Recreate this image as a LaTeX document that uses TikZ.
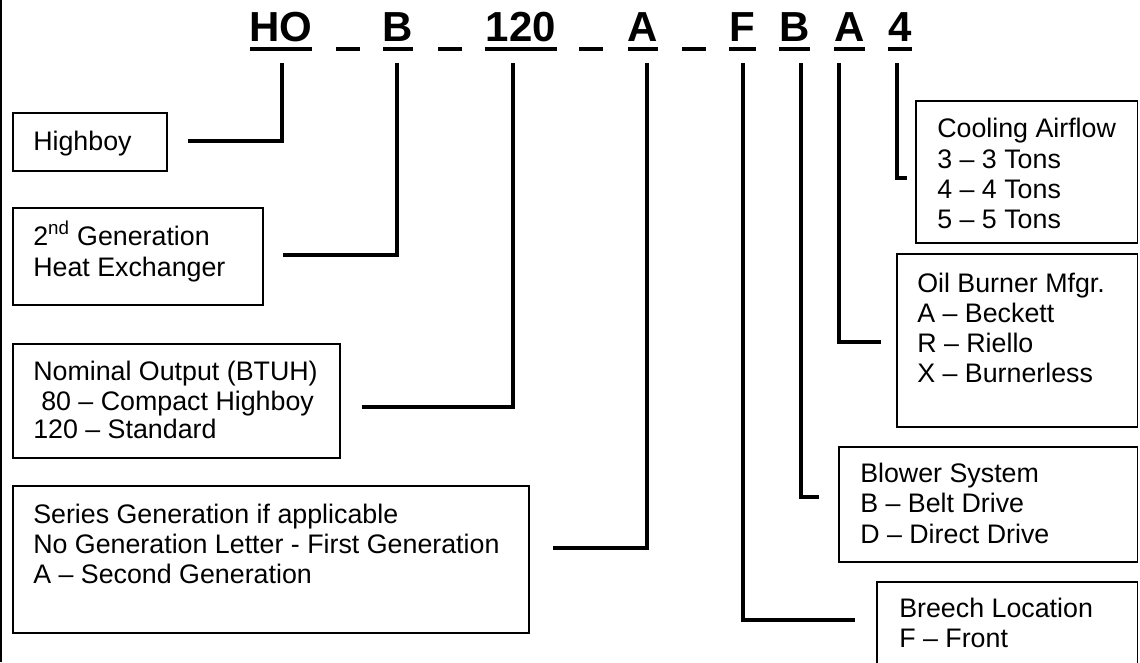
\documentclass[tikz,border=0pt]{standalone}
\usepackage{fontspec}
\setmainfont{Liberation Sans}
\begin{document}
\begin{tikzpicture}[x=0.75pt,y=-0.75pt,
  box/.style={draw=black,line width=1.1pt},
  conn/.style={draw=black,line width=2.9pt,line join=miter,line cap=butt},
  lbl/.style={anchor=base west,inner sep=0pt,font=\fontsize{20.1}{22.5}\selectfont},
  code/.style={anchor=base,inner sep=0pt,font=\fontsize{31.5}{34}\selectfont\bfseries},
  uline/.style={fill=black}]
\useasboundingbox (0,0) rectangle (1140,662);
\clip (0,0) rectangle (1140,662);
\draw[line width=1.5pt] (1,0) -- (1,662);

% title code
\node[code] (tHO) at (281,41) {HO};
\node[code] (tB) at (398,41) {B};
\node[code] (t120) at (521,41) {120};
\node[code] (tA) at (643,41) {A};
\node[code] (tF) at (742.5,41) {F};
\node[code] (tB2) at (794.5,41) {B};
\node[code] (tA2) at (849.5,41) {A};
\node[code] (t4) at (900,41) {4};
\foreach \a/\b in {250/312,336/360,383/413,438/462,485/557,579/603,628/658,682/706,729/756,779/810,834/865,888/912}
  \fill[uline] (\a,46.5) rectangle (\b,50.5);

% boxes
\draw[box] (13,113) rectangle (167,171);
\draw[box] (13,208) rectangle (263,305);
\draw[box] (13,344) rectangle (340,458);
\draw[box] (13,486) rectangle (529,633);
\draw[box] (916,101) rectangle (1137.5,243);
\draw[box] (897,254) rectangle (1137.5,427);
\draw[box] (839,447) rectangle (1137.5,562);
\draw[box] (877,700) -- (877,582) -- (1137.5,582) -- (1137.5,700);

% texts
\node[lbl] (hi1) at (33,150) {Highboy};
\node[lbl] (ge1) at (33,245) {2\textsuperscript{nd} Generation};
\node[lbl] (ge2) at (33,276) {Heat Exchanger};
\node[lbl] (no1) at (33,380) {Nominal Output (BTUH)};
\node[lbl] (no2) at (41,410) {80 – Compact Highboy};
\node[lbl] (no3) at (33,438) {120 – Standard};
\node[lbl] (se1) at (33,523) {Series Generation if applicable};
\node[lbl] (se2) at (33,553) {No Generation Letter - First Generation};
\node[lbl] (se3) at (33,583) {A – Second Generation};
\node[lbl] (co1) at (937,137) {Cooling Airflow};
\node[lbl] (co2) at (937,168) {3 – 3 Tons};
\node[lbl] (co3) at (937,198) {4 – 4 Tons};
\node[lbl] (co4) at (937,228) {5 – 5 Tons};
\node[lbl] (oi1) at (917,292) {Oil Burner Mfgr.};
\node[lbl] (oi2) at (917,322) {A – Beckett};
\node[lbl] (oi3) at (917,352) {R – Riello};
\node[lbl] (oi4) at (917,382) {X – Burnerless};
\node[lbl] (bl1) at (860,482) {Blower System};
\node[lbl] (bl2) at (860,512) {B – Belt Drive};
\node[lbl] (bl3) at (860,543) {D – Direct Drive};
\node[lbl] (br1) at (899,617) {Breech Location};
\node[lbl] (br2) at (899,647) {F – Front};

% connectors
\coordinate (sHO) at (282,63);   \coordinate (eHO) at (188,141);
\coordinate (sB) at (397,63);    \coordinate (eB) at (283,255);
\coordinate (s120) at (513,63);  \coordinate (e120) at (362,407);
\coordinate (sA) at (647,63);    \coordinate (eA) at (553,548);
\coordinate (sF) at (743,63);    \coordinate (eF) at (855,620);
\coordinate (sB2) at (801,63);   \coordinate (eB2) at (819,497);
\coordinate (sA2) at (839,63);   \coordinate (eA2) at (881,342);
\coordinate (s4) at (897,63);    \coordinate (e4) at (907,178);
\draw[conn] (sHO) |- (eHO);
\draw[conn] (sB) |- (eB);
\draw[conn] (s120) |- (e120);
\draw[conn] (sA) |- (eA);
\draw[conn] (sF) |- (eF);
\draw[conn] (sB2) |- (eB2);
\draw[conn] (sA2) |- (eA2);
\draw[conn] (s4) |- (e4);
\end{tikzpicture}
\end{document}
